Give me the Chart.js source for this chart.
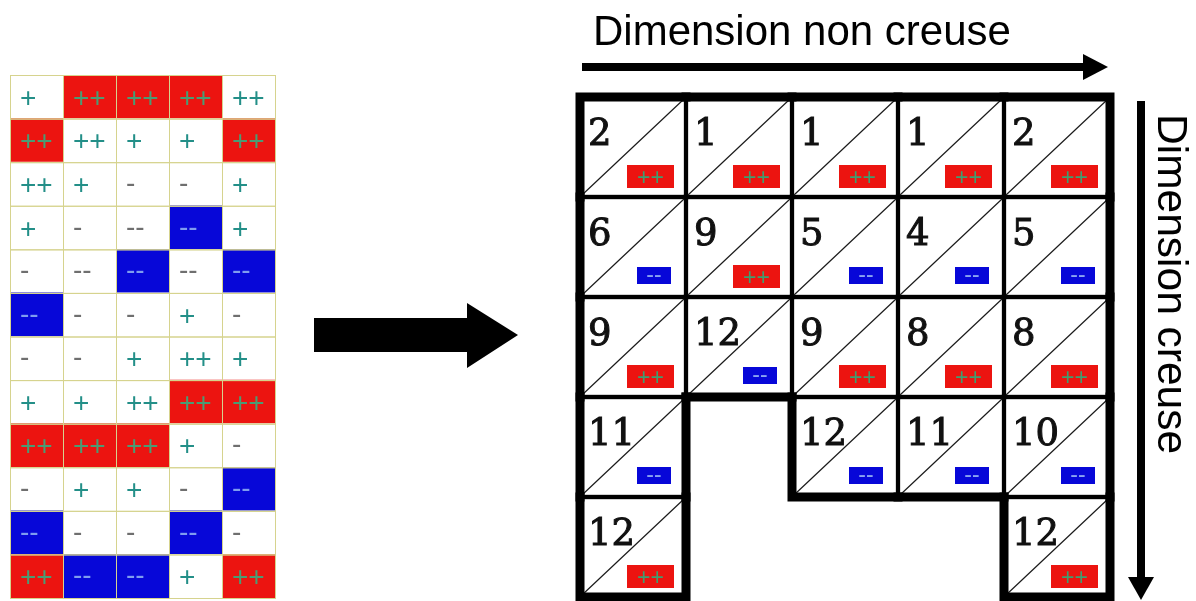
<!DOCTYPE html>
<html>
<head>
<meta charset="utf-8">
<script src="https://cdn.jsdelivr.net/npm/chart.js@4.4.0/dist/chart.umd.min.js"></script>
<style>
  html, body { margin: 0; padding: 0; background: #fff; }
  #wrap { position: relative; width: 1196px; height: 601px; overflow: hidden; }
  #wrap canvas { position: absolute; left: 0; top: 0; }
</style>
</head>
<body>
<div id="wrap">
  <canvas id="rightChart" width="1196" height="601"></canvas>
  <canvas id="leftChart" width="300" height="601"></canvas>
</div>
<script>
// left table: 12 rows x 5 columns of signs
const leftRowLabels = ["1", "2", "3", "4", "5", "6", "7", "8", "9", "10", "11", "12"];
const leftCells = [
  ["+", "++", "++", "++", "++"],
  ["++", "++", "+", "+", "++"],
  ["++", "+", "-", "-", "+"],
  ["+", "-", "--", "--", "+"],
  ["-", "--", "--", "--", "--"],
  ["--", "-", "-", "+", "-"],
  ["-", "-", "+", "++", "+"],
  ["+", "+", "++", "++", "++"],
  ["++", "++", "++", "+", "-"],
  ["-", "+", "+", "-", "--"],
  ["--", "-", "-", "--", "-"],
  ["++", "--", "--", "+", "++"]
];
// 1 = highlighted high (red), -1 = highlighted low (blue), 0 = plain
const leftMarked = [
  [0, 1, 1, 1, 0],
  [1, 0, 0, 0, 1],
  [0, 0, 0, 0, 0],
  [0, 0, 0, -1, 0],
  [0, 0, -1, 0, -1],
  [-1, 0, 0, 0, 0],
  [0, 0, 0, 0, 0],
  [0, 0, 0, 1, 1],
  [1, 1, 1, 0, 0],
  [0, 0, 0, 0, -1],
  [-1, 0, 0, -1, 0],
  [1, -1, -1, 0, 1]
];

// right table: 5 x 5, count per cell (null = no cell) and its sign
const rightRowLabels = ["1", "2", "3", "4", "5"];
const rightCounts = [
  [2, 1, 1, 1, 2],
  [6, 9, 5, 4, 5],
  [9, 12, 9, 8, 8],
  [11, null, 12, 11, 10],
  [12, null, null, null, 12]
];
const rightSigns = [
  ["++", "++", "++", "++", "++"],
  ["--", "++", "--", "--", "--"],
  ["++", "--", "++", "++", "++"],
  ["--", null, "--", "--", "--"],
  ["++", null, null, null, "++"]
];
const colNames = ["c1", "c2", "c3", "c4", "c5"];

const RED = "#ec1410";
const BLUE = "#0707d8";

function fillFor(m) {
  return m === 1 ? RED : m === -1 ? BLUE : "#ffffff";
}

function cellRect(el) {
  const p = el.getProps(["x", "y", "base", "height"], true);
  return {
    left: Math.min(p.x, p.base),
    right: Math.max(p.x, p.base),
    top: p.y - p.height / 2,
    bottom: p.y + p.height / 2
  };
}

const leftPlugin = {
  id: "leftCells",
  afterDatasetsDraw(chart) {
    const ctx = chart.ctx;
    ctx.save();
    chart.data.datasets.forEach((ds, c) => {
      chart.getDatasetMeta(c).data.forEach((el, r) => {
        const b = cellRect(el);
        ctx.strokeStyle = "#d6d38e";
        ctx.lineWidth = 1;
        ctx.strokeRect(b.left + 0.5, b.top + 0.5, b.right - b.left, b.bottom - b.top);
        const txt = leftCells[r][c];
        const m = leftMarked[r][c];
        const plus = txt.indexOf("+") >= 0;
        let col;
        if (m === 1) col = "#4a9c74";
        else if (m === -1) col = "#7f9cf0";
        else col = plus ? "#238f88" : "#6f6f6f";
        ctx.fillStyle = col;
        ctx.font = '28px "Liberation Sans"';
        ctx.textBaseline = "alphabetic";
        ctx.textAlign = "left";
        const cy = (b.top + b.bottom) / 2;
        ctx.fillText(txt, b.left + 10, cy + (plus ? 10 : 8));
      });
    });
    ctx.restore();
  }
};

const rightPlugin = {
  id: "rightCells",
  afterDatasetsDraw(chart) {
    const ctx = chart.ctx;
    ctx.save();
    const rects = rightCounts.map(() => []);
    chart.data.datasets.forEach((ds, c) => {
      chart.getDatasetMeta(c).data.forEach((el, r) => {
        if (rightCounts[r][c] == null) return;
        const b = cellRect(el);
        rects[r][c] = b;
        // diagonal
        ctx.strokeStyle = "#1a1a1a";
        ctx.lineWidth = 1.1;
        ctx.beginPath();
        ctx.moveTo(b.left + 2, b.bottom - 2);
        ctx.lineTo(b.right - 2, b.top + 2);
        ctx.stroke();
        // count
        ctx.fillStyle = "#111";
        ctx.strokeStyle = "#111";
        ctx.lineWidth = 1;
        ctx.font = '37px "DejaVu Serif"';
        ctx.textAlign = "left";
        ctx.textBaseline = "alphabetic";
        ctx.fillText(String(rightCounts[r][c]), b.left + 8, b.top + 48);
        ctx.strokeText(String(rightCounts[r][c]), b.left + 8, b.top + 48);
        // sign badge
        const s = rightSigns[r][c];
        const high = s === "++";
        const w = high ? 47 : 34, h = high ? 23 : 17;
        const rx = b.right - (high ? 12 : 15) - w;
        const ry = b.bottom - (high ? 9 : 13) - h;
        ctx.fillStyle = high ? RED : BLUE;
        ctx.fillRect(rx, ry, w, h);
        ctx.fillStyle = high ? "#3f9e70" : "#8aa4f2";
        ctx.font = '23px "Liberation Sans"';
        ctx.textAlign = "center";
        ctx.textBaseline = "alphabetic";
        ctx.fillText(s, rx + w / 2, ry + h / 2 + (high ? 8 : 6));
      });
    });
    // thick outline wherever a cell has no neighbour
    ctx.strokeStyle = "#000";
    ctx.lineWidth = 9;
    ctx.lineCap = "square";
    const has = (r, c) => r >= 0 && r < rightCounts.length && c >= 0 && c < 5 && rightCounts[r][c] != null;
    rects.forEach((row, r) => row.forEach((b, c) => {
      if (!b) return;
      ctx.beginPath();
      if (!has(r - 1, c)) { ctx.moveTo(b.left, b.top); ctx.lineTo(b.right, b.top); }
      if (!has(r + 1, c)) { ctx.moveTo(b.left, b.bottom); ctx.lineTo(b.right, b.bottom); }
      if (!has(r, c - 1)) { ctx.moveTo(b.left, b.top); ctx.lineTo(b.left, b.bottom); }
      if (!has(r, c + 1)) { ctx.moveTo(b.right, b.top); ctx.lineTo(b.right, b.bottom); }
      ctx.stroke();
    }));
    ctx.restore();
  },
  afterDraw(chart) {
    const ctx = chart.ctx;
    const area = chart.chartArea;
    ctx.save();
    ctx.fillStyle = "#000";
    // big transition arrow
    ctx.beginPath();
    ctx.moveTo(314, 318); ctx.lineTo(467, 318); ctx.lineTo(467, 303);
    ctx.lineTo(518, 335); ctx.lineTo(467, 368); ctx.lineTo(467, 352);
    ctx.lineTo(314, 352); ctx.closePath();
    ctx.fill();
    // horizontal axis arrow
    ctx.fillRect(area.left + 2, 63, 1084 - area.left - 2, 8);
    ctx.beginPath();
    ctx.moveTo(1083, 54); ctx.lineTo(1108, 67); ctx.lineTo(1083, 80); ctx.closePath();
    ctx.fill();
    ctx.font = '42px "Liberation Sans"';
    ctx.textAlign = "left";
    ctx.textBaseline = "alphabetic";
    ctx.fillText("Dimension non creuse", 593, 45);
    // vertical axis arrow
    ctx.fillRect(1137, 101, 8, 478);
    ctx.beginPath();
    ctx.moveTo(1128, 577); ctx.lineTo(1154, 577); ctx.lineTo(1141, 600); ctx.closePath();
    ctx.fill();
    ctx.translate(1158, 114);
    ctx.rotate(Math.PI / 2);
    ctx.font = '42.5px "Liberation Sans"';
    ctx.fillText("Dimension creuse", 0, 0);
    ctx.restore();
  }
};

const common = {
  indexAxis: "y",
  responsive: false,
  animation: false,
  events: [],
  plugins: { legend: { display: false }, tooltip: { enabled: false } }
};

new Chart(document.getElementById("leftChart"), {
  type: "bar",
  data: {
    labels: leftRowLabels,
    datasets: colNames.map((name, c) => ({
      label: name,
      data: leftCells.map(() => [c, c + 1]),
      backgroundColor: leftMarked.map(row => fillFor(row[c])),
      borderWidth: 0,
      barPercentage: 1,
      categoryPercentage: 1,
      grouped: false
    }))
  },
  options: Object.assign({}, common, {
    layout: { padding: { left: 10, right: 25, top: 75, bottom: 3 } },
    scales: {
      x: { type: "linear", min: 0, max: 5, display: false },
      y: { display: false }
    }
  }),
  plugins: [leftPlugin]
});

new Chart(document.getElementById("rightChart"), {
  type: "bar",
  data: {
    labels: rightRowLabels,
    datasets: colNames.map((name, c) => ({
      label: name,
      data: rightCounts.map(row => (row[c] == null ? null : [c, c + 1])),
      backgroundColor: "#ffffff",
      borderColor: "#000000",
      borderWidth: 2.5,
      borderSkipped: false,
      barPercentage: 1,
      categoryPercentage: 1,
      grouped: false
    }))
  },
  options: Object.assign({}, common, {
    layout: { padding: { left: 580, right: 86, top: 97, bottom: 4 } },
    scales: {
      x: { type: "linear", min: 0, max: 5, display: false },
      y: { display: false }
    }
  }),
  plugins: [rightPlugin]
});
</script>
</body>
</html>
